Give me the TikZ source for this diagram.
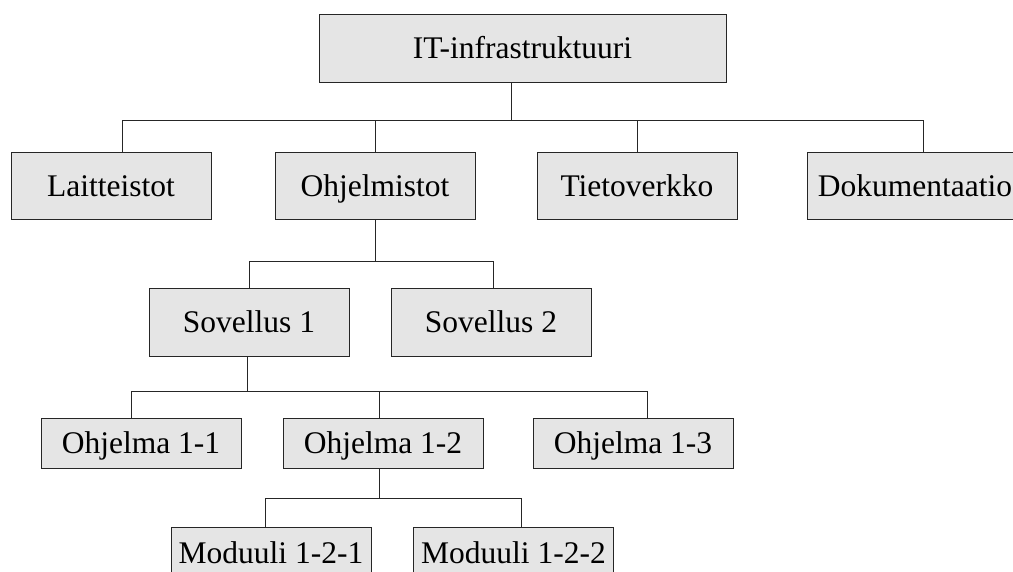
\documentclass[tikz,border=0pt]{standalone}
\usepackage{fontspec}
\setmainfont{Liberation Serif}
\begin{document}
\begin{tikzpicture}[x=1pt,y=-1pt,
  orgbox/.style={draw=black!85,line width=0.9pt,fill=black!10,rectangle,
    minimum width=200pt,inner sep=0pt,text height=21pt,text depth=0pt,
    font=\fontsize{31.5}{36}\selectfont},
  link/.style={draw=black!85,line width=0.9pt}]
\useasboundingbox (0,0) rectangle (1013,571);
\clip (0,0) rectangle (1013,571);

% boxes
\node[orgbox,minimum width=407pt,minimum height=68pt] (root) at (522.5,48) {IT-infrastruktuuri};
\node[orgbox,minimum height=67pt] (lai) at (111,185.5) {Laitteistot};
\node[orgbox,minimum height=67pt] (ohj) at (375,185.5) {Ohjelmistot};
\node[orgbox,minimum height=67pt] (tie) at (637,185.5) {Tietoverkko};
\node[orgbox,minimum width=216pt,minimum height=67pt] (dok) at (915,185.5) {Dokumentaatio};
\node[orgbox,minimum height=68pt] (sov1) at (249,322) {Sovellus 1};
\node[orgbox,minimum height=68pt] (sov2) at (491,322) {Sovellus 2};
\node[orgbox,minimum height=50pt] (o11) at (141,443) {Ohjelma 1-1};
\node[orgbox,minimum height=50pt] (o12) at (383,443) {Ohjelma 1-2};
\node[orgbox,minimum height=50pt] (o13) at (633,443) {Ohjelma 1-3};
\node[orgbox,minimum height=52pt] (m1) at (271,553) {Moduuli 1-2-1};
\node[orgbox,minimum height=52pt] (m2) at (513.5,553) {Moduuli 1-2-2};

% junction points on the horizontal bars
\coordinate (r0) at (511,120);
\coordinate (jlai) at (122,120);
\coordinate (johj) at (375,120);
\coordinate (jtie) at (637,120);
\coordinate (jdok) at (923,120);

\coordinate (r1) at (375,261);
\coordinate (jsov1) at (249,261);
\coordinate (jsov2) at (493,261);

\coordinate (r2) at (247,391);
\coordinate (jo11) at (131,391);
\coordinate (jo12) at (379,391);
\coordinate (jo13) at (647,391);

\coordinate (r3) at (379,498);
\coordinate (jm1) at (265,498);
\coordinate (jm2) at (521,498);

% level 1
\draw[link] (root.south -| r0) -- (r0);
\draw[link] (jlai) -- (jdok);
\foreach \j/\k in {jlai/lai,johj/ohj,jtie/tie,jdok/dok}
  \draw[link] (\j) -- (\j |- \k.north);

% level 2
\draw[link] (ohj.south -| r1) -- (r1);
\draw[link] (jsov1) -- (jsov2);
\foreach \j/\k in {jsov1/sov1,jsov2/sov2}
  \draw[link] (\j) -- (\j |- \k.north);

% level 3
\draw[link] (sov1.south -| r2) -- (r2);
\draw[link] (jo11) -- (jo13);
\foreach \j/\k in {jo11/o11,jo12/o12,jo13/o13}
  \draw[link] (\j) -- (\j |- \k.north);

% level 4
\draw[link] (o12.south -| r3) -- (r3);
\draw[link] (jm1) -- (jm2);
\foreach \j/\k in {jm1/m1,jm2/m2}
  \draw[link] (\j) -- (\j |- \k.north);
\end{tikzpicture}
\end{document}
